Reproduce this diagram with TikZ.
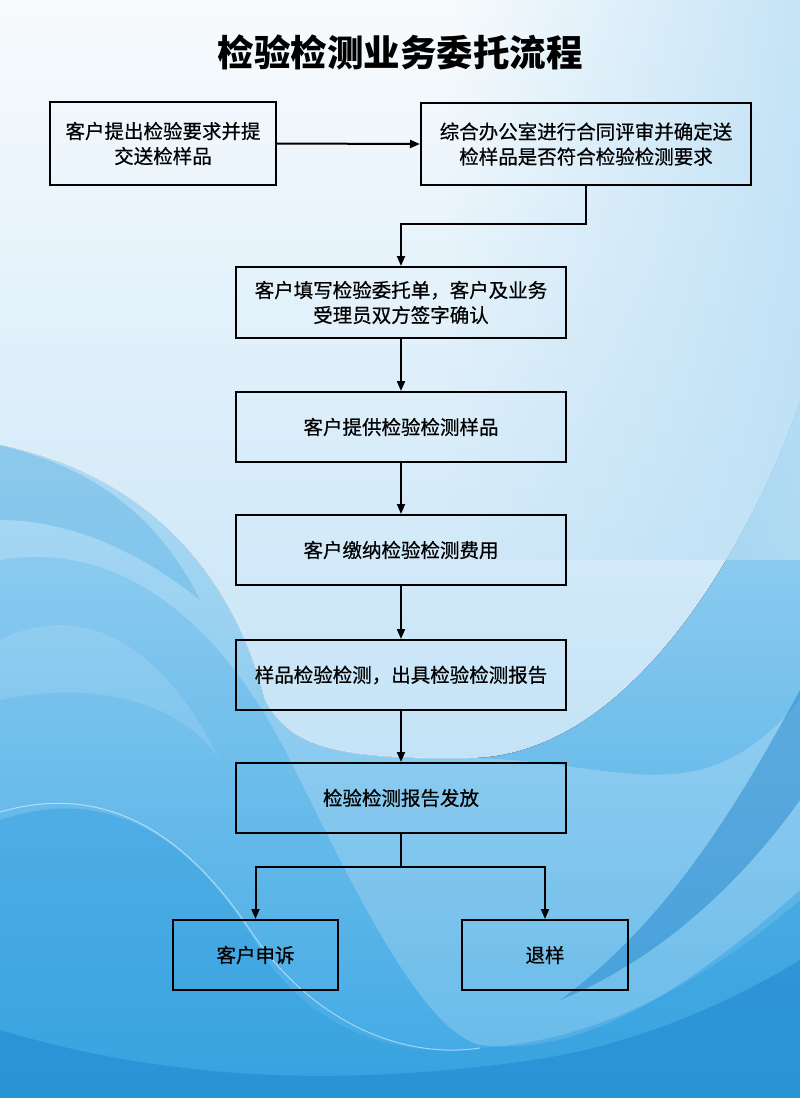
\documentclass[tikz,border=0pt]{standalone}
\usepackage{fontspec}
\newfontfamily\cjk{Noto Sans CJK SC}
\newfontfamily\cjkb[FakeBold=0.6]{Noto Sans CJK SC}
\usetikzlibrary{arrows.meta,fadings}
\definecolor{bgtop}{HTML}{D8EEFB}
\definecolor{bgbot}{HTML}{3FA8E4}
\definecolor{bowltop}{HTML}{F8FBFD}
\definecolor{bowlbot}{HTML}{C4E3F7}
\definecolor{wavemid}{HTML}{2B9ADB}
\definecolor{wavedark}{HTML}{1A80C9}
\definecolor{tint}{HTML}{B9DEF5}
\tikzfading[name=fadeleft, left color=transparent!100, right color=transparent!0]
\tikzset{
  box/.style={draw=black, line width=2pt, minimum width=330pt, minimum height=71pt, inner sep=2pt, align=center, font=\cjkb\fontsize{19.5}{25}\selectfont, text=black},
  arr/.style={line width=2pt, -{Triangle[length=10pt,width=8pt]}},
  ln/.style={line width=2pt},
}
\begin{document}
\begin{tikzpicture}[x=1pt,y=-1pt]
\useasboundingbox (0,0) rectangle (800,1098);
% background
\fill[top color=bgtop, bottom color=bgbot] (0,0) rectangle (800,1098);
\fill[top color=bowltop, bottom color=bowlbot] (0,0) -- (800,0) -- (800,400)
  .. controls (760,520) and (640,756) .. (470,758)
  .. controls (330,760) and (290,745) .. (265,700)
  .. controls (240,600) and (170,480) .. (0,445) -- cycle;
\fill[tint, path fading=fadeleft, opacity=0.8] (450,0) rectangle (800,560);
\fill[white, opacity=0.2] (0,560) .. controls (120,540) and (220,620) .. (290,760)
  .. controls (350,880) and (420,1030) .. (480,1045)
  .. controls (600,1060) and (720,960) .. (800,890) -- (800,700)
  .. controls (700,820) and (620,760) .. (470,758)
  .. controls (330,760) and (290,745) .. (265,700)
  .. controls (240,600) and (170,480) .. (0,445) -- cycle;
\fill[wavemid, opacity=0.4] (0,820) .. controls (120,780) and (200,850) .. (260,950)
  .. controls (310,1030) and (400,1060) .. (480,1048)
  .. controls (620,1040) and (730,960) .. (800,900) -- (800,1098) -- (0,1098) -- cycle;
\fill[wavedark, opacity=0.45] (0,1030) .. controls (200,1090) and (380,1080) .. (520,1062)
  .. controls (650,1045) and (750,990) .. (800,960) -- (800,1098) -- (0,1098) -- cycle;
\fill[wavedark, opacity=0.45] (800,690) .. controls (740,800) and (670,920) .. (560,1000)
  .. controls (670,955) and (750,870) .. (800,800) -- cycle;
\fill[wavemid, opacity=0.25] (0,445) .. controls (100,470) and (160,520) .. (200,600)
  .. controls (150,560) and (80,520) .. (0,520) -- cycle;
\fill[white, opacity=0.12] (0,640) .. controls (80,600) and (160,640) .. (220,760)
  .. controls (180,700) and (90,680) .. (0,700) -- cycle;
\draw[white, opacity=0.5, line width=1pt] (0,812) .. controls (110,780) and (190,840) .. (250,930)
  .. controls (310,1020) and (400,1060) .. (480,1048);
\draw[white, opacity=0.4, line width=1pt] (0,445) .. controls (170,480) and (240,600) .. (265,700)
  .. controls (290,745) and (330,760) .. (470,758);
% title
\node (title) at (400,52) {\cjk\bfseries\fontsize{36.5}{40}\selectfont 检验检测业务委托流程};
% boxes
\node[box, minimum width=226pt, minimum height=83pt] (b1) at (163,143.5) {客户提出检验要求并提\\交送检样品};
\node[box, minimum height=82pt] (b2) at (586,144) {综合办公室进行合同评审并确定送\\检样品是否符合检验检测要求};
\node[box] (b3) at (401,302.5) {客户填写检验委托单，客户及业务\\受理员双方签字确认};
\node[box, minimum height=70pt] (b4) at (401,427) {客户提供检验检测样品};
\node[box, minimum height=70pt] (b5) at (401,550) {客户缴纳检验检测费用};
\node[box, minimum height=70pt] (b6) at (401,675) {样品检验检测，出具检验检测报告};
\node[box, minimum height=70pt] (b7) at (401,798) {检验检测报告发放};
\node[box, minimum width=165pt, minimum height=70pt] (b8) at (255.5,955) {客户申诉};
\node[box, minimum width=166pt, minimum height=70pt] (b9) at (545,955) {退样};
% connectors
\draw[arr] (b1.east) -- (b2.west);
\draw[arr] (b2.south) -- ++(0,38) -| (b3.north);
\draw[arr] (b3) -- (b4);
\draw[arr] (b4) -- (b5);
\draw[arr] (b5) -- (b6);
\draw[arr] (b6) -- (b7);
\draw[ln] (b7.south) -- ++(0,33) coordinate (br);
\draw[arr] (br) -| (b8.north);
\draw[arr] (br) -| (b9.north);
\end{tikzpicture}
\end{document}
